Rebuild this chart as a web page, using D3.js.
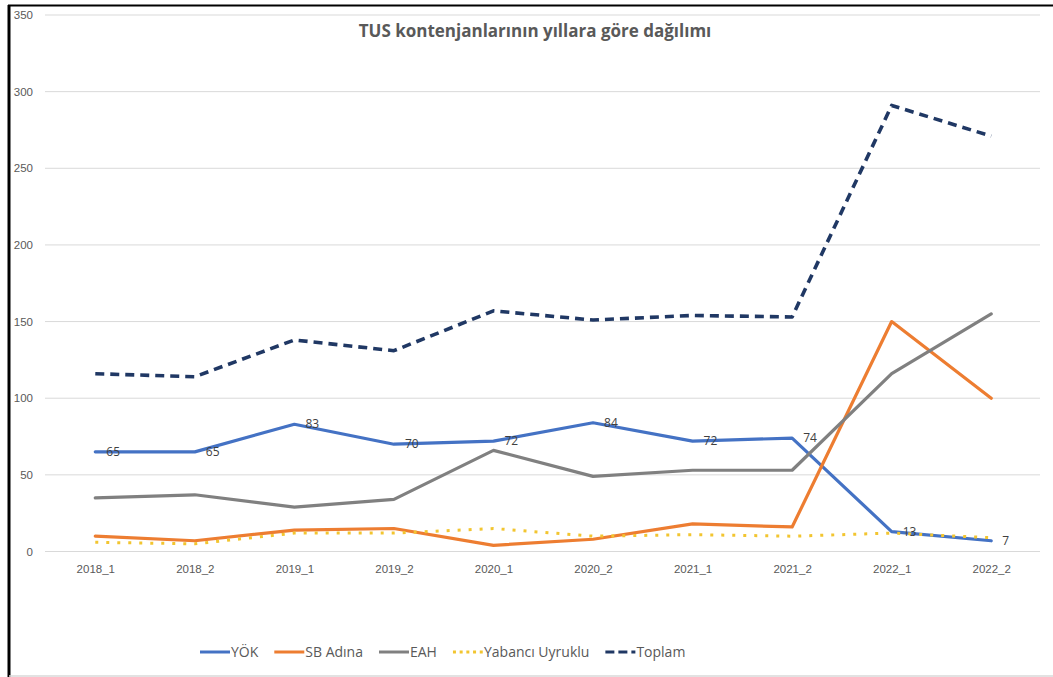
<!DOCTYPE html>
<html>
<head>
<meta charset="utf-8">
<script src="https://cdn.jsdelivr.net/npm/d3@7"></script>
<style>
  body { margin: 0; background: #fff; }
  svg { display: block; font-family: "Open Sans", "Noto Sans", sans-serif; }
</style>
</head>
<body>
<svg id="chart" width="1053" height="677"></svg>
<script>
// chart data
const periods = ["2018_1", "2018_2", "2019_1", "2019_2", "2020_1", "2020_2", "2021_1", "2021_2", "2022_1", "2022_2"];
const yok      = [65, 65, 83, 70, 72, 84, 72, 74, 13, 7];
const sbAdina  = [10, 7, 14, 15, 4, 8, 18, 16, 150, 100];
const eah      = [35, 37, 29, 34, 66, 49, 53, 53, 116, 155];
const yabanci  = [6, 5, 12, 12, 15, 10, 11, 10, 12, 9];
const toplam   = [116, 114, 138, 131, 157, 151, 154, 153, 291, 271];
const yTicks   = [0, 50, 100, 150, 200, 250, 300, 350];

const series = [
    { name: "YÖK", values: yok, color: "#4472C4", dash: null, width: 3.2 },
    { name: "SB Adına", values: sbAdina, color: "#ED7D31", dash: null, width: 3.2 },
    { name: "EAH", values: eah, color: "#808080", dash: null, width: 3.2 },
    { name: "Yabancı Uyruklu", values: yabanci, color: "#F2C530", dash: "3,8", legendDash: "3,3.7", width: 3 },
    { name: "Toplam", values: toplam, color: "#203864", dash: "9,6", legendDash: "9,4", width: 3.6 }
];

const svg = d3.select("#chart");

// frame
svg.append("line").attr("x1", 9).attr("x2", 9).attr("y1", 5).attr("y2", 677)
    .attr("stroke", "#000").attr("stroke-width", 3);
svg.append("line").attr("x1", 8).attr("x2", 1053).attr("y1", 5.5).attr("y2", 5.5)
    .attr("stroke", "#000").attr("stroke-width", 2);
svg.append("line").attr("x1", 9).attr("x2", 1053).attr("y1", 676).attr("y2", 676)
    .attr("stroke", "#d9d9d9").attr("stroke-width", 1.5);

const x = d3.scalePoint().domain(periods).range([45.5, 1041]).padding(0.5);
const y = d3.scaleLinear().domain([0, 350]).range([551.5, 15]);

// gridlines
svg.append("g")
    .selectAll("line")
    .data(yTicks)
    .enter().append("line")
    .attr("x1", 45).attr("x2", 1040)
    .attr("y1", d => y(d)).attr("y2", d => y(d))
    .attr("stroke", "#d9d9d9").attr("stroke-width", 1);

// y axis labels
const yAxis = svg.append("g")
    .attr("transform", "translate(33,0)")
    .call(d3.axisLeft(y).tickValues(yTicks).tickSize(0).tickPadding(0));
yAxis.select(".domain").remove();
yAxis.selectAll("text").attr("fill", "#595959").attr("font-size", "11.5px");

// x axis labels
const xAxis = svg.append("g")
    .attr("transform", "translate(0,557)")
    .call(d3.axisBottom(x).tickSize(0).tickPadding(8));
xAxis.select(".domain").remove();
xAxis.selectAll("text").attr("fill", "#595959").attr("font-size", "11.5px");

// title
svg.append("text")
    .attr("x", 535).attr("y", 37)
    .attr("text-anchor", "middle")
    .attr("font-weight", "bold")
    .attr("font-size", "17px")
    .attr("fill", "#595959")
    .text("TUS kontenjanlarının yıllara göre dağılımı");

// lines
const line = d3.line()
    .x((d, i) => x(periods[i]))
    .y(d => y(d));

svg.append("g")
    .selectAll("path")
    .data(series)
    .enter().append("path")
    .attr("d", s => line(s.values))
    .attr("fill", "none")
    .attr("stroke", s => s.color)
    .attr("stroke-width", s => s.width)
    .attr("stroke-linejoin", "round")
    .attr("stroke-linecap", s => s.dash ? "butt" : "round")
    .attr("stroke-dasharray", s => s.dash);

// data labels for YÖK
svg.append("g")
    .selectAll("text")
    .data(yok)
    .enter().append("text")
    .attr("x", (d, i) => x(periods[i]) + 11)
    .attr("y", d => y(d))
    .attr("dy", "0.35em")
    .attr("fill", "#404040")
    .attr("font-size", "12px")
    .text(d => d);

// legend
const legend = svg.append("g").attr("transform", "translate(200,652)");
let lx = 0;
series.forEach(s => {
    const g = legend.append("g").attr("transform", `translate(${lx},0)`);
    g.append("line")
        .attr("x1", 0).attr("x2", 30).attr("y1", 0).attr("y2", 0)
        .attr("stroke", s.color).attr("stroke-width", 3)
        .attr("stroke-dasharray", s.legendDash || null);
    const t = g.append("text")
        .attr("x", 31).attr("y", 0).attr("dy", "0.35em")
        .attr("fill", "#595959").attr("font-size", "14px")
        .text(s.name);
    lx += 31 + t.node().getComputedTextLength() + 16;
});
</script>
</body>
</html>
